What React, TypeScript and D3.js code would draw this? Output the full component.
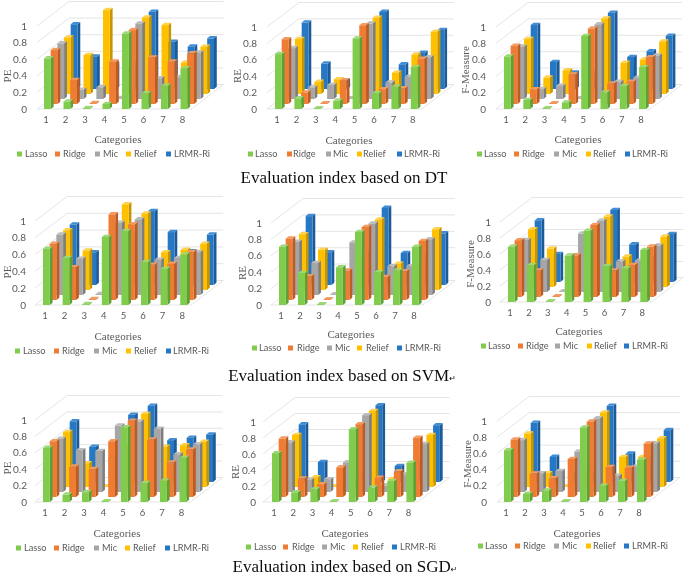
import React from "react";
import * as d3 from "d3";

const categories = ["1", "2", "3", "4", "5", "6", "7", "8"];
const seriesNames = ["Lasso", "Ridge", "Mic", "Relief", "LRMR-Ri"];
const yTicks = [0, 0.2, 0.4, 0.6, 0.8, 1];
const colors = [
  { front: "#80cc4e", top: "#9bd873", side: "#5f9f36" },
  { front: "#ee7c33", top: "#f39a60", side: "#bd5c20" },
  { front: "#a6a6a6", top: "#bdbdbd", side: "#7e7e7e" },
  { front: "#ffc000", top: "#ffd24d", side: "#c69500" },
  { front: "#2878c4", top: "#3f8dd4", side: "#1a5a98" },
];

const dtPE = [
  [0.61, 0.09, 0.01, 0.06, 0.91, 0.19, 0.28, 0.49],
  [0.65, 0.29, 0.01, 0.51, 0.89, 0.56, 0.51, 0.61],
  [0.67, 0.11, 0.14, 0.01, 0.91, 0.25, 0.26, 0.56],
  [0.68, 0.47, 1.01, 0.3, 0.92, 0.83, 0.38, 0.57],
  [0.78, 0.39, 0.3, 0.3, 0.93, 0.57, 0.51, 0.61],
];
const dtRE = [
  [0.67, 0.13, 0.01, 0.1, 0.86, 0.19, 0.27, 0.51],
  [0.79, 0.14, 0.01, 0.29, 0.96, 0.18, 0.19, 0.55],
  [0.62, 0.14, 0.17, 0.01, 0.92, 0.2, 0.27, 0.51],
  [0.67, 0.15, 0.18, 0.05, 0.93, 0.26, 0.48, 0.76],
  [0.81, 0.31, 0.1, 0.1, 0.94, 0.3, 0.44, 0.72],
];
const dtF = [
  [0.64, 0.11, 0.01, 0.08, 0.89, 0.2, 0.28, 0.51],
  [0.71, 0.18, 0.01, 0.36, 0.92, 0.25, 0.27, 0.57],
  [0.64, 0.12, 0.16, 0.01, 0.91, 0.21, 0.26, 0.53],
  [0.67, 0.2, 0.29, 0.1, 0.92, 0.38, 0.42, 0.64],
  [0.78, 0.33, 0.2, 0.2, 0.93, 0.39, 0.46, 0.65],
];
const svmPE = [
  [0.67, 0.56, 0.01, 0.81, 0.88, 0.51, 0.43, 0.6],
  [0.67, 0.39, 0.01, 1.02, 0.9, 0.42, 0.43, 0.57],
  [0.72, 0.43, 0.01, 0.86, 0.9, 0.42, 0.44, 0.51],
  [0.71, 0.47, 0, 1.02, 0.91, 0.45, 0.48, 0.55],
  [0.72, 0.39, 0, 0.6, 0.88, 0.63, 0.4, 0.6],
];
const svmRE = [
  [0.71, 0.39, 0.01, 0.46, 0.89, 0.4, 0.42, 0.71],
  [0.75, 0.29, 0.01, 0.36, 0.89, 0.28, 0.35, 0.72],
  [0.65, 0.39, 0.01, 0.64, 0.87, 0.35, 0.35, 0.68],
  [0.68, 0.49, 0, 0.4, 0.86, 0.32, 0.3, 0.74],
  [0.84, 0.4, 0, 0.4, 0.94, 0.39, 0.35, 0.63],
];
const svmF = [
  [0.69, 0.46, 0.01, 0.58, 0.89, 0.45, 0.42, 0.65],
  [0.71, 0.33, 0.01, 0.52, 0.9, 0.33, 0.4, 0.63],
  [0.65, 0.4, 0.01, 0.73, 0.89, 0.38, 0.39, 0.58],
  [0.72, 0.48, 0, 0.3, 0.88, 0.38, 0.3, 0.63],
  [0.77, 0.35, 0, 0.3, 0.9, 0.47, 0.3, 0.6],
];
const sgdPE = [
  [0.66, 0.09, 0.12, 0.01, 0.91, 0.23, 0.26, 0.54],
  [0.68, 0.37, 0.34, 0.68, 0.93, 0.7, 0.42, 0.58],
  [0.65, 0.51, 0.5, 0.81, 0.86, 0.77, 0.46, 0.58],
  [0.67, 0.29, 0.01, 0.5, 0.89, 0.49, 0.51, 0.55],
  [0.74, 0.43, 0.3, 0.82, 0.93, 0.51, 0.54, 0.58],
];
const sgdRE = [
  [0.61, 0.12, 0.16, 0.01, 0.91, 0.18, 0.26, 0.49],
  [0.73, 0.23, 0.16, 0.37, 0.91, 0.24, 0.32, 0.74],
  [0.62, 0.15, 0.16, 0.37, 0.96, 0.08, 0.22, 0.6],
  [0.65, 0.12, 0.01, 0.1, 0.95, 0.1, 0.28, 0.65],
  [0.72, 0.25, 0.1, 0.1, 0.96, 0.2, 0.26, 0.71],
];
const sgdF = [
  [0.64, 0.1, 0.14, 0.01, 0.92, 0.2, 0.26, 0.52],
  [0.71, 0.29, 0.23, 0.47, 0.93, 0.37, 0.36, 0.66],
  [0.64, 0.23, 0.26, 0.5, 0.91, 0.2, 0.31, 0.6],
  [0.66, 0.17, 0.01, 0.2, 0.92, 0.37, 0.37, 0.6],
  [0.73, 0.31, 0.1, 0.1, 0.94, 0.35, 0.3, 0.64],
];

type Panel = {
  data: number[][]; name: string; fl: number; base: number; one: number; lasso: number; step: number;
  yRight: number; nameX: number; nameY: number; catX: number; catY: number; legY: number;
  swatch: number[]; legText: number[];
};

const panels: Panel[] = [
  { data: dtPE, name: "PE", fl: 37, base: 109, one: 26, lasso: 44, step: 19.5, yRight: 27, nameX: 7, nameY: 76, catX: 118, catY: 139, legY: 154, swatch: [17, 55, 95, 126, 166], legText: [25, 63, 103, 134, 174] },
  { data: dtRE, name: "RE", fl: 267, base: 109, one: 27, lasso: 275, step: 19.4, yRight: 257, nameX: 237, nameY: 76, catX: 349, catY: 140, legY: 154, swatch: [248, 287, 326, 357, 397], legText: [255, 293, 333, 363, 404] },
  { data: dtF, name: "F-Measure", fl: 496, base: 109, one: 27, lasso: 504, step: 19.3, yRight: 486, nameX: 465, nameY: 70, catX: 578, catY: 139, legY: 154, swatch: [477, 514, 554, 586, 625], legText: [484, 522, 562, 593, 632] },
  { data: svmPE, name: "PE", fl: 35, base: 305, one: 221, lasso: 43, step: 19.6, yRight: 26, nameX: 7, nameY: 272, catX: 118, catY: 336, legY: 351, swatch: [15, 54, 94, 126, 166], legText: [23, 62, 102, 134, 173] },
  { data: svmRE, name: "RE", fl: 271, base: 305, one: 223, lasso: 279, step: 19, yRight: 262, nameX: 242, nameY: 273, catX: 351, catY: 334, legY: 348, swatch: [252, 288, 327, 357, 397], legText: [259, 297, 335, 366, 405] },
  { data: svmF, name: "F-Measure", fl: 500, base: 302, one: 222, lasso: 508, step: 18.9, yRight: 491, nameX: 470, nameY: 264, catX: 579, catY: 331, legY: 346, swatch: [481, 518, 555, 587, 624], legText: [488, 526, 563, 594, 632] },
  { data: sgdPE, name: "PE", fl: 35, base: 502, one: 420, lasso: 43, step: 19.5, yRight: 27, nameX: 7, nameY: 468, catX: 117, catY: 533, legY: 548, swatch: [16, 54, 94, 125, 165], legText: [24, 62, 102, 133, 173] },
  { data: sgdRE, name: "RE", fl: 263, base: 502, one: 422, lasso: 272, step: 19.2, yRight: 256, nameX: 235, nameY: 472, catX: 345, catY: 533, legY: 547, swatch: [246, 283, 322, 353, 392], legText: [254, 292, 330, 361, 400] },
  { data: sgdF, name: "F-Measure", fl: 497, base: 502, one: 421, lasso: 504, step: 19, yRight: 487, nameX: 467, nameY: 464, catX: 577, catY: 533, legY: 546, swatch: [478, 515, 554, 586, 624], legText: [485, 523, 562, 593, 632] },
];

const titles = [
  { text: "Evaluation index based on DT", x: 344, y: 183, mark: false },
  { text: "Evaluation index based on SVM", x: 342, y: 381, mark: true },
  { text: "Evaluation index based on SGD", x: 345, y: 572, mark: true },
];

const SANS = "Lato, 'Open Sans', sans-serif";
const SERIF = "'Liberation Serif', serif";
const GRID = "#dedede";
const DX = 32, DY = 24.5;
const S_DX = 6.67, S_DY = 5, BAR_W = 6.8, SIDE_X = 2.8, SIDE_Y = 2.3;

function Bars3D({ p }: { p: Panel }) {
  const y = d3.scaleLinear().domain([0, 1]).range([p.base, p.one]);
  const x = d3.scalePoint<string>().domain(categories).range([p.lasso, p.lasso + 7 * p.step]);
  const right = x("8")! + 11;
  const line = d3.line();
  const bars: React.ReactNode[] = [];
  for (let s = seriesNames.length - 1; s >= 0; s--) {
    categories.forEach((c, i) => {
      const v = p.data[s][i];
      if (v <= 0) return;
      const x0 = x(c)! + s * S_DX;
      const x1 = x0 + BAR_W;
      const yb = y(0) - s * S_DY;
      const yt = y(v) - s * S_DY;
      const poly = (pts: [number, number][], fill: string, key: string) => (
        <path key={key} d={line(pts)! + "Z"} fill={fill} />
      );
      bars.push(
        <g key={`${s}-${i}`}>
          {poly([[x1, yb], [x1 + SIDE_X, yb - SIDE_Y], [x1 + SIDE_X, yt - SIDE_Y], [x1, yt]], colors[s].side, "side")}
          {poly([[x0, yt], [x1, yt], [x1 + SIDE_X, yt - SIDE_Y], [x0 + SIDE_X, yt - SIDE_Y]], colors[s].top, "top")}
          {poly([[x0, yb], [x1, yb], [x1, yt], [x0, yt]], colors[s].front, "front")}
        </g>
      );
    });
  }
  return (
    <g>
      {yTicks.map((t) => (
        <g key={t}>
          <path d={line([[p.fl, y(t)], [p.fl + DX, y(t) - DY], [right + DX, y(t) - DY]])!} fill="none" stroke={GRID} strokeWidth={0.8} />
          <text x={p.yRight} y={y(t)} dy="0.36em" textAnchor="end" fontFamily={SANS} fontSize={10} fill="#595959">{d3.format("~g")(t)}</text>
        </g>
      ))}
      <path d={line([[p.fl, y(0)], [right, y(0)], [right + DX, y(0) - DY]])!} fill="none" stroke={GRID} strokeWidth={0.8} />
      {bars}
      {categories.map((c) => (
        <text key={c} x={x(c)! + 2} y={p.base + 14} textAnchor="middle" fontFamily={SANS} fontSize={9.5} fill="#595959">{c}</text>
      ))}
      <text transform={`translate(${p.nameX},${p.nameY}) rotate(-90)`} textAnchor="middle" dominantBaseline="central" fontFamily={SERIF} fontSize={11} fill="#595959">{p.name}</text>
      <text x={p.catX} y={p.catY} dy="0.33em" textAnchor="middle" fontFamily={SERIF} fontSize={11} fill="#595959">Categories</text>
      {seriesNames.map((n, s) => (
        <g key={n}>
          <rect x={p.swatch[s]} y={p.legY - 2.5} width={5} height={5} fill={colors[s].front} />
          <text x={p.legText[s]} y={p.legY} dy="0.35em" fontFamily={SANS} fontSize={9.2} fill="#595959">{n}</text>
        </g>
      ))}
    </g>
  );
}

export default function App() {
  return (
    <svg width={685} height={576} style={{ position: "absolute", left: 0, top: 0, background: "#fff" }}>
      <defs>
        <filter id="soft" x="0" y="0" width="100%" height="100%">
          <feGaussianBlur stdDeviation={0.45} />
        </filter>
      </defs>
      <g filter="url(#soft)">
        {panels.map((p, i) => <Bars3D key={i} p={p} />)}
        {titles.map((t) => (
          <text key={t.text} x={t.x} y={t.y} textAnchor="middle" fontFamily={SERIF} fontSize={17} fill="#111">
            {t.text}
            {t.mark && <tspan fontSize={8} fontFamily="'DejaVu Sans'">↵</tspan>}
          </text>
        ))}
      </g>
    </svg>
  );
}
